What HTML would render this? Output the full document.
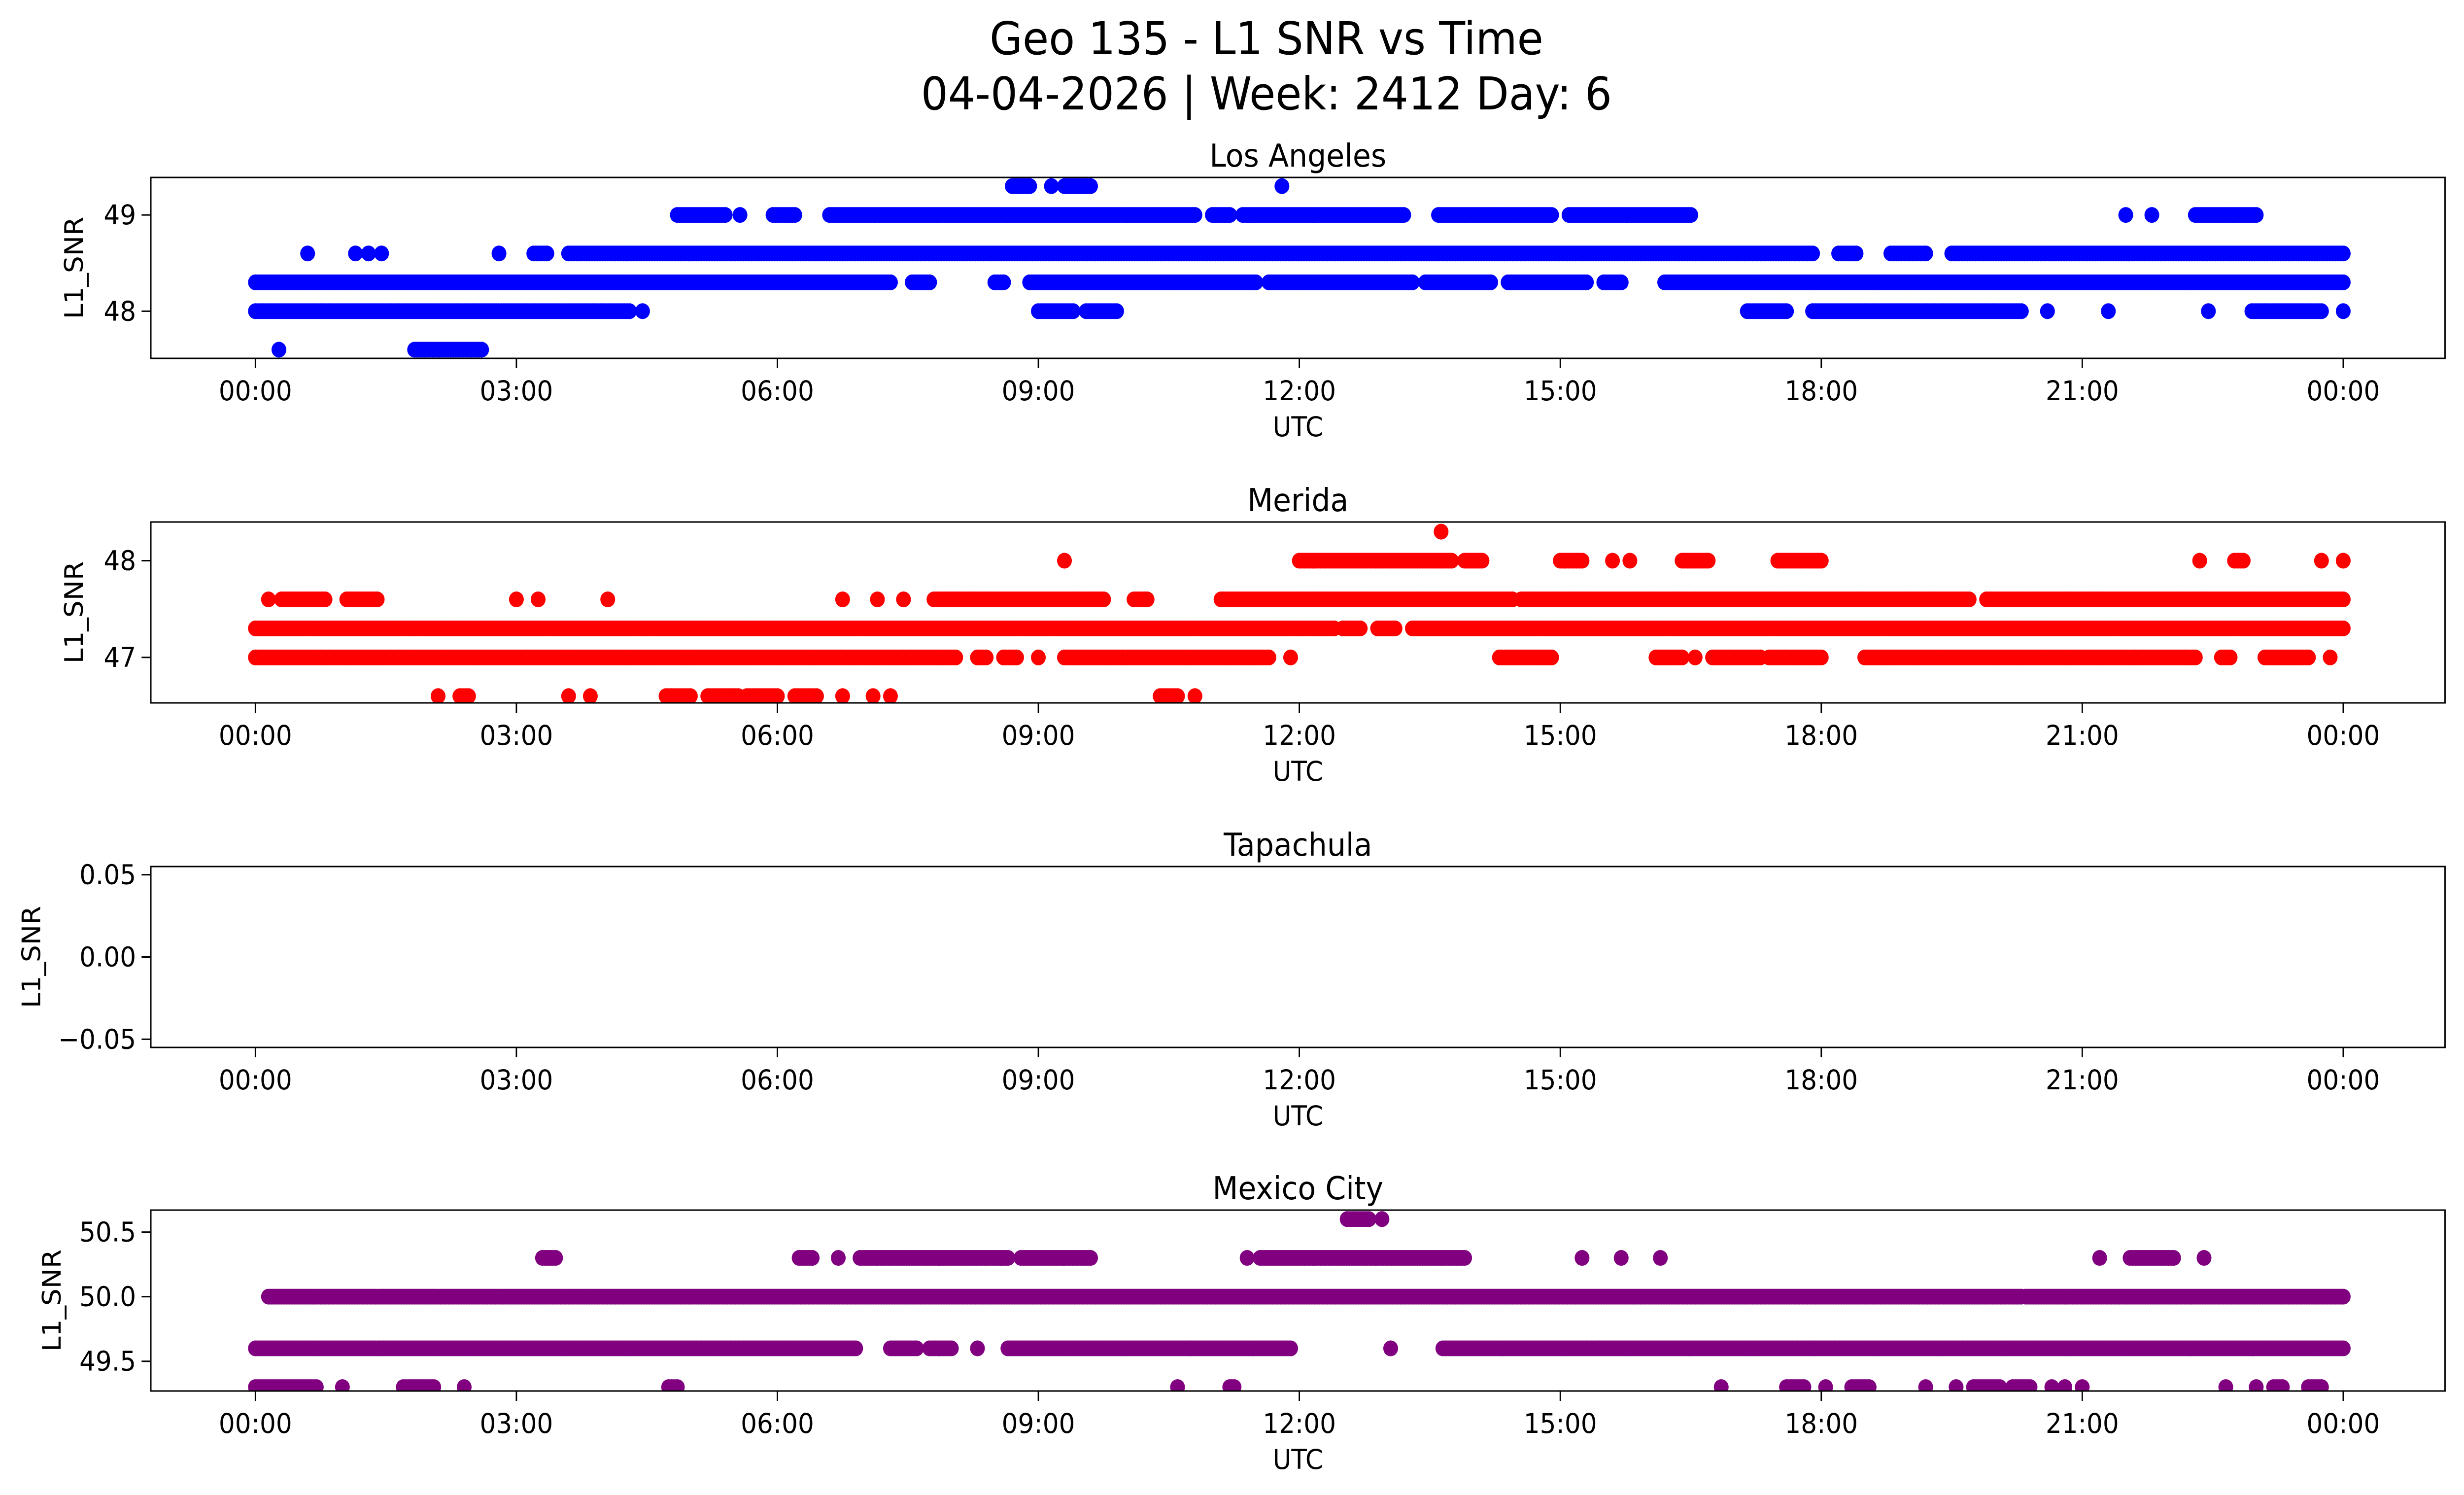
<!DOCTYPE html>
<html><head><meta charset="utf-8"><style>
html,body{margin:0;padding:0;background:#fff;overflow:hidden;width:100%;height:100%}
svg{display:block;position:absolute;left:0;top:0;width:100vw;height:100vh;font-family:"DejaVu Sans","Liberation Sans",sans-serif}
</style></head><body>
<svg id="fig" viewBox="0 0 5325 3033" preserveAspectRatio="none" xmlns="http://www.w3.org/2000/svg">
<rect width="5325" height="3033" fill="#fff"/>
<text x="2737" y="110" font-size="92" text-anchor="middle">Geo 135 - L1 SNR vs Time</text>
<text x="2737" y="222" font-size="92" text-anchor="middle">04-04-2026 | Week: 2412 Day: 6</text>
</svg>
<script>
// Data: runs of observations [level, startHour, endHour]; single points have start==end
const panelTitles = ["Los Angeles","Merida","Tapachula","Mexico City"];
const panelColors = ["#0000ff","#ff0000","#800080","#800080"];
const xTickLabels = ["00:00","03:00","06:00","09:00","12:00","15:00","18:00","21:00","00:00"];
const xTickHours = [0,3,6,9,12,15,18,21,24];
const yTicksLA = [48,49];
const yTicksMerida = [47,48];
const yTicksTapachula = [-0.05,0.00,0.05];
const yTicksMexico = [49.5,50.0,50.5];
const yRangeLA = [47.51,49.39];
const yRangeMerida = [46.53,48.40];
const yRangeTapachula = [-0.055,0.055];
const yRangeMexico = [49.27,50.67];
const runsLA = [
 [48.3,0,7.3],[48.3,7.55,7.75],[48.3,8.5,8.6],[48.3,8.9,11.5],[48.3,11.65,13.3],[48.3,13.45,14.2],[48.3,14.4,15.3],[48.3,15.5,15.7],[48.3,16.2,24],
 [48.6,0.6,0.6],[48.6,1.15,1.15],[48.6,1.3,1.3],[48.6,1.45,1.45],[48.6,2.8,2.8],[48.6,3.2,3.35],[48.6,3.6,17.9],[48.6,18.2,18.4],[48.6,18.8,19.2],[48.6,19.5,24],
 [49.0,4.85,5.4],[49.0,5.57,5.57],[49.0,5.95,6.2],[49.0,6.6,10.8],[49.0,11.0,11.2],[49.0,11.35,13.2],[49.0,13.6,14.9],[49.0,15.1,16.5],[49.0,21.5,21.5],[49.0,21.8,21.8],[49.0,22.3,23.0],
 [48.0,0,4.3],[48.0,4.45,4.45],[48.0,9.0,9.4],[48.0,9.55,9.9],[48.0,17.15,17.6],[48.0,17.9,20.3],[48.0,20.6,20.6],[48.0,21.3,21.3],[48.0,22.45,22.45],[48.0,22.95,23.75],[48.0,24,24],
 [47.6,0.27,0.27],[47.6,1.83,2.6],
 [49.3,8.7,8.9],[49.3,9.15,9.15],[49.3,9.3,9.6],[49.3,11.8,11.8]
];
const runsMerida = [
 [47.3,0,12.4],[47.3,12.5,12.7],[47.3,12.9,13.1],[47.3,13.3,24],
 [47.0,0,8.05],[47.0,8.3,8.4],[47.0,8.6,8.75],[47.0,9.0,9.0],[47.0,9.3,11.65],[47.0,11.9,11.9],[47.0,14.3,14.9],[47.0,16.1,16.4],[47.0,16.55,16.55],[47.0,16.75,17.3],[47.0,17.4,18.0],[47.0,18.5,22.3],[47.0,22.6,22.7],[47.0,23.1,23.6],[47.0,23.85,23.85],
 [47.6,0.15,0.15],[47.6,0.3,0.8],[47.6,1.05,1.4],[47.6,3.0,3.0],[47.6,3.25,3.25],[47.6,4.05,4.05],[47.6,6.75,6.75],[47.6,7.15,7.15],[47.6,7.45,7.45],[47.6,7.8,9.75],[47.6,10.1,10.25],[47.6,11.1,14.45],[47.6,14.55,19.7],[47.6,19.9,24],
 [48.0,9.3,9.3],[48.0,12.0,13.75],[48.0,13.9,14.1],[48.0,15.0,15.25],[48.0,15.6,15.6],[48.0,15.8,15.8],[48.0,16.4,16.7],[48.0,17.5,18.0],[48.0,22.35,22.35],[48.0,22.75,22.85],[48.0,23.75,23.75],[48.0,24,24],
 [48.3,13.63,13.63],
 [46.6,2.1,2.1],[46.6,2.35,2.45],[46.6,3.6,3.6],[46.6,3.85,3.85],[46.6,4.72,5.0],[46.6,5.2,5.55],[46.6,5.65,6.0],[46.6,6.2,6.45],[46.6,6.75,6.75],[46.6,7.1,7.1],[46.6,7.3,7.3],[46.6,10.4,10.6],[46.6,10.8,10.8]
];
const runsTapachula = [];
const runsMexico = [
 [50.0,0.15,20.3],[50.0,20.35,24],
 [49.6,0,6.9],[49.6,7.3,7.6],[49.6,7.75,8.0],[49.6,8.3,8.3],[49.6,8.65,11.9],[49.6,13.05,13.05],[49.6,13.65,24],
 [49.3,0,0.7],[49.3,1.0,1.0],[49.3,1.7,2.05],[49.3,2.4,2.4],[49.3,4.75,4.85],[49.3,10.6,10.6],[49.3,11.2,11.25],[49.3,16.85,16.85],[49.3,17.6,17.8],[49.3,18.05,18.05],[49.3,18.35,18.55],[49.3,19.2,19.2],[49.3,19.55,19.55],[49.3,19.75,20.05],[49.3,20.2,20.4],[49.3,20.65,20.65],[49.3,20.8,20.8],[49.3,21.0,21.0],[49.3,22.65,22.65],[49.3,23.0,23.0],[49.3,23.2,23.3],[49.3,23.6,23.75],
 [50.3,3.3,3.45],[50.3,6.25,6.4],[50.3,6.7,6.7],[50.3,6.95,8.65],[50.3,8.8,9.6],[50.3,11.4,11.4],[50.3,11.55,13.9],[50.3,15.25,15.25],[50.3,15.7,15.7],[50.3,16.15,16.15],[50.3,21.2,21.2],[50.3,21.55,22.05],[50.3,22.4,22.4],
 [50.6,12.55,12.8],[50.6,12.95,12.95]
];
const allRuns = [runsLA, runsMerida, runsTapachula, runsMexico];
const allYTicks = [yTicksLA, yTicksMerida, yTicksTapachula, yTicksMexico];
const allYRanges = [yRangeLA, yRangeMerida, yRangeTapachula, yRangeMexico];
const yTickFmt = [v=>v.toFixed(0), v=>v.toFixed(0), v=>(v<0?"\u2212"+Math.abs(v).toFixed(2):v.toFixed(2)), v=>v.toFixed(1)];

const NS="http://www.w3.org/2000/svg";
const svg=document.getElementById('fig');
const L=326,R=5284,H=367;
const tops=[360,1059,1758,2455];
const yLabelX=[160,160,68,112];
const xScale=h=>552+h*(4512/24);
function mk(tag,attrs,parent){const e=document.createElementNS(NS,tag);for(const k in attrs)e.setAttribute(k,attrs[k]);(parent||svg).appendChild(e);return e;}

for(let p=0;p<4;p++){
  const top=tops[p],bot=top+H;
  const [y0,y1]=allYRanges[p];
  const yScale=v=>bot-(v-y0)/(y1-y0)*H;
  const g=mk('g',{});
  
  
  const clipId='clip'+p;
  const cp=mk('clipPath',{id:clipId},g);mk('rect',{x:L,y:top,width:R-L,height:H},cp);
  const dots=mk('g',{'clip-path':'url(#'+clipId+')',fill:panelColors[p]},g);
  
  
  for(const [lv,s,e] of allRuns[p]){
    const n=Math.max(0,Math.round((e-s)/0.03));
    for(let i=0;i<=n;i++){
      const h=n?s+(e-s)*i/n:s;
      mk('circle',{cx:xScale(h).toFixed(1),cy:yScale(lv).toFixed(1),r:16},dots);
    }
  }
  const frame=mk('rect',{x:L,y:top,width:R-L,height:H,fill:'none',stroke:'#000','stroke-width':3},g);
  
  
  for(let i=0;i<xTickHours.length;i++){
    const x=xScale(xTickHours[i]);
    mk('line',{x1:x,x2:x,y1:bot,y2:bot+20,stroke:'#000','stroke-width':3},g);
    const t=mk('text',{x:x,y:bot+85,'font-size':55,'text-anchor':'middle'},g);
    
    
    t.textContent=xTickLabels[i];
  }
  for(const v of allYTicks[p]){
    const y=yScale(v);
    mk('line',{x1:L-20,x2:L,y1:y,y2:y,stroke:'#000','stroke-width':3},g);
    const t=mk('text',{x:L-32,y:y+19,'font-size':55,'text-anchor':'end'},g);
    
    
    t.textContent=yTickFmt[p](v);
  }
  const xl=mk('text',{x:(L+R)/2,y:bot+158,'font-size':55,'text-anchor':'middle'},g);
  
  
  xl.textContent='UTC';
  const yx=yLabelX[p];
  const yl=mk('text',{x:yx,y:top+H/2,'font-size':55,'text-anchor':'middle','dominant-baseline':'central',transform:'rotate(-90 '+yx+' '+(top+H/2)+')'},g);
  
  
  yl.textContent='L1_SNR';
  const tt=mk('text',{x:(L+R)/2,y:top-22,'font-size':64,'text-anchor':'middle'},g);
  
  
  tt.textContent=panelTitles[p];
}
</script>
</body></html>
